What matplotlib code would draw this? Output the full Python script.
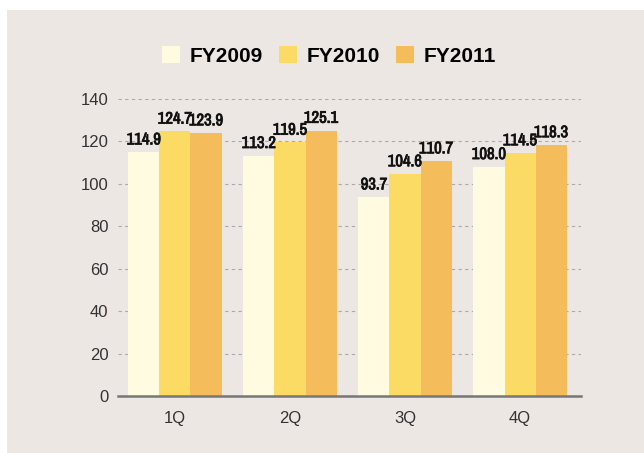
import matplotlib
matplotlib.use("Agg")
from matplotlib import pyplot as plt
from matplotlib import font_manager as fm
from matplotlib import patheffects as pe
from matplotlib.patches import Rectangle, Patch
import numpy as np

# data
quarters = ["1Q", "2Q", "3Q", "4Q"]
series_names = ["FY2009", "FY2010", "FY2011"]
fy2009 = [114.9, 113.2, 93.7, 108.0]
fy2010 = [124.7, 119.5, 104.6, 114.5]
fy2011 = [123.9, 125.1, 110.7, 118.3]
yticks = [0, 20, 40, 60, 80, 100, 120, 140]

colors = ["#FEFBE1", "#FBDB63", "#F5BC5B"]
bg = "#ECE7E3"

plt.rcParams['font.family'] = ['Liberation Sans', 'DejaVu Sans']

# narrow font for the value labels, if there is one (thickened with a stroke)
names = set(f.name for f in fm.fontManager.ttflist)
if "Archivo Narrow" in names:
    lab_kw = dict(family=["Archivo Narrow"], fontsize=12, fontweight="bold", fontstyle="normal",
                  path_effects=[pe.withStroke(linewidth=0.6, foreground="#111111")])
else:
    lab_kw = dict(fontsize=10, fontweight="bold")

fig = plt.figure(figsize=(6.44, 4.53), dpi=100)
fig.patch.set_facecolor("white")
# beige panel behind everything
fig.patches.append(Rectangle((7/644, 0), 1, (453-10)/453, transform=fig.transFigure,
                             facecolor=bg, edgecolor="none", zorder=-10))

ax = fig.add_axes([118/644, 1-396/453, 463/644, 297/453])
ax.set_facecolor("none")
ax.set_zorder(2)

x = np.arange(len(quarters))
w = 0.27
allvals = [fy2009, fy2010, fy2011]
for i, vals in enumerate(allvals):
    pos = x + (i-1)*w
    ax.bar(pos, vals, w, color=colors[i], zorder=2)
    for px, v in zip(pos, vals):
        ax.annotate("%.1f" % v, (px, v), xytext=(0, 3.5), textcoords="offset points",
                    ha="center", va="bottom", color="#111111", zorder=3, **lab_kw)

ax.set_xlim(-0.495, 3.53)
ax.set_ylim(0, 140)
ax.set_yticks(yticks)
ax.set_xticks(x)
ax.set_xticklabels(quarters)
for s in ["top", "right", "left"]:
    ax.spines[s].set_visible(False)
ax.spines["bottom"].set_color("#777777")
ax.spines["bottom"].set_linewidth(1.8)
ax.spines["bottom"].set_zorder(4)
ax.tick_params(axis="y", length=0, pad=7, labelsize=12, labelcolor="#333333")
ax.tick_params(axis="x", length=0, pad=11, labelsize=12, labelcolor="#333333")
ax.yaxis.grid(True, linestyle=(0, (3, 3)), color="#AAAAAA", linewidth=0.8, zorder=1)
ax.set_axisbelow(True)

handles = [Patch(facecolor=c, edgecolor="none") for c in colors]
leg = fig.legend(handles, series_names, loc="center", bbox_to_anchor=(329/644, 1-56/453),
                 ncol=3, frameon=False, prop={"weight": "bold", "size": 15},
                 handlelength=0.85, handleheight=0.85, handletextpad=0.45, columnspacing=0.8)
leg.set_zorder(3)

fig.savefig("out.png", dpi=100)
